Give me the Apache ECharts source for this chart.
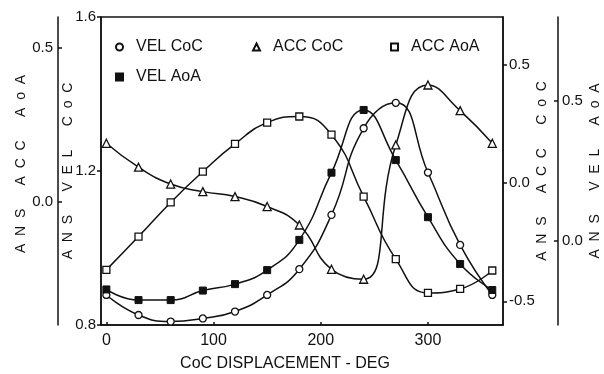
<!DOCTYPE html>
<html>
<head>
<meta charset="utf-8">
<script src="https://cdn.jsdelivr.net/npm/echarts@6/dist/echarts.min.js"></script>
<style>
body{margin:0;background:#fff;}
#main{width:604px;height:374px;}
</style>
</head>
<body>
<div id="main"></div>
<script>
// CoC displacement, degrees
var xDeg = [0, 30, 60, 90, 120, 150, 180, 210, 240, 270, 300, 330, 360];

var velCoC = [0.878, 0.826, 0.809, 0.817, 0.835, 0.878, 0.945, 1.086, 1.311, 1.377, 1.196, 1.008, 0.878];
var accCoC = [0.167, 0.066, -0.005, -0.037, -0.058, -0.100, -0.178, -0.365, -0.407, 0.160, 0.413, 0.305, 0.167];
var accAoA = [-0.221, -0.113, -0.002, 0.098, 0.188, 0.257, 0.277, 0.218, 0.017, -0.186, -0.296, -0.283, -0.223];
var velAoA = [-0.173, -0.211, -0.211, -0.177, -0.154, -0.104, 0.004, 0.244, 0.468, 0.289, 0.085, -0.082, -0.175];

var xTicks = [0, 100, 200, 300];
var velCoCTicks = [0.8, 1.2, 1.6];
var accAoATicks = [0.0, 0.5];
var accCoCTicks = [-0.5, 0.0, 0.5];
var velAoATicks = [0.0, 0.5];

var ink = '#111';
var font = 'Liberation Sans';

function pairs(ys){
    return xDeg.map(function(x, i){ return [x, ys[i]]; });
}
function fmt(v){ return Number(v).toFixed(1); }

function yAx(pos, offset, min, max, ticks, name, gap, tickInside, labelMargin, namePad){
    return {
        type: 'value',
        position: pos,
        offset: offset,
        min: min,
        max: max,
        name: name,
        nameLocation: 'middle',
        nameRotate: 90,
        nameGap: gap,
        nameMoveOverlap: false,
        nameTextStyle: {fontFamily: font, fontSize: 14, color: ink, padding: namePad || 0},
        axisLine: {show: true, onZero: false, lineStyle: {color: ink, width: 1.5}},
        axisTick: {show: true, inside: tickInside, length: 4, customValues: ticks, lineStyle: {color: ink, width: 1.5}},
        axisLabel: {customValues: ticks, formatter: fmt, margin: labelMargin, fontFamily: font, fontSize: 15, color: ink},
        splitLine: {show: false}
    };
}

function legendAt(name, icon, left, top){
    return {
        data: [{name: name, icon: icon}],
        left: left,
        top: top,
        padding: 0,
        itemWidth: 7,
        itemHeight: 7,
        textStyle: {fontFamily: font, fontSize: 16, color: ink, padding: [0, 0, 0, 8]}
    };
}

var hollow = {color: '#fff', borderColor: ink, borderWidth: 1.3};

var myChart = echarts.init(document.getElementById('main'));
var option = {
    animation: false,
    backgroundColor: '#fff',
    grid: {left: 101, right: 101, top: 17, bottom: 49, outerBoundsMode: 'none', show: true, borderColor: ink, borderWidth: 1.5},
    legend: [
        legendAt('VEL CoC', 'circle', 115, 39),
        legendAt('ACC CoC', 'triangle', 252, 39),
        legendAt('ACC AoA', 'rect', 390, 39),
        legendAt('VEL AoA', 'rect', 115, 69)
    ],
    xAxis: {
        type: 'value',
        min: -5,
        max: 370,
        name: 'CoC DISPLACEMENT - DEG',
        nameLocation: 'middle',
        nameGap: 31,
        nameMoveOverlap: false,
        nameTextStyle: {fontFamily: font, fontSize: 16, color: ink, padding: [0, 34, 0, 0]},
        axisLine: {onZero: false, lineStyle: {color: ink, width: 1.5}},
        axisTick: {inside: true, length: 3, customValues: xTicks, lineStyle: {color: ink, width: 1.5}},
        axisLabel: {customValues: xTicks, margin: 8, fontFamily: font, fontSize: 16, color: ink},
        splitLine: {show: false}
    },
    yAxis: [
        yAx('left', 0, 0.8, 1.6, velCoCTicks, 'A  N  S      V  E  L      C  o  C', 26, false, 5),
        yAx('left', 43, -0.4, 0.6, accAoATicks, 'A  N  S      A  C  C      A  o  A', 30, true, 5, [0, 0, 0, 14]),
        yAx('right', 0, -0.6, 0.7, accCoCTicks, 'A  N  S      A  C  C      C  o  C', 32, false, 6),
        yAx('right', 55, -0.3, 0.8, velAoATicks, 'A  N  S      V  E  L      A  o  A', 30, true, 4)
    ],
    series: [
        {
            name: 'VEL CoC', type: 'line', yAxisIndex: 0, smooth: 0.5,
            symbol: 'circle', symbolSize: 7, showAllSymbol: true,
            lineStyle: {color: ink, width: 1.5}, itemStyle: hollow,
            data: pairs(velCoC)
        },
        {
            name: 'ACC CoC', type: 'line', yAxisIndex: 2, smooth: 0.5,
            symbol: 'triangle', symbolSize: 8, showAllSymbol: true,
            lineStyle: {color: ink, width: 1.5}, itemStyle: hollow,
            data: pairs(accCoC)
        },
        {
            name: 'ACC AoA', type: 'line', yAxisIndex: 1, smooth: 0.5,
            symbol: 'rect', symbolSize: 7, showAllSymbol: true,
            lineStyle: {color: ink, width: 1.5}, itemStyle: hollow,
            data: pairs(accAoA)
        },
        {
            name: 'VEL AoA', type: 'line', yAxisIndex: 3, smooth: 0.5,
            symbol: 'rect', symbolSize: 7, showAllSymbol: true,
            lineStyle: {color: ink, width: 1.5}, itemStyle: {color: ink, borderColor: ink, borderWidth: 1},
            data: pairs(velAoA)
        }
    ]
};
myChart.setOption(option);
</script>
</body>
</html>
